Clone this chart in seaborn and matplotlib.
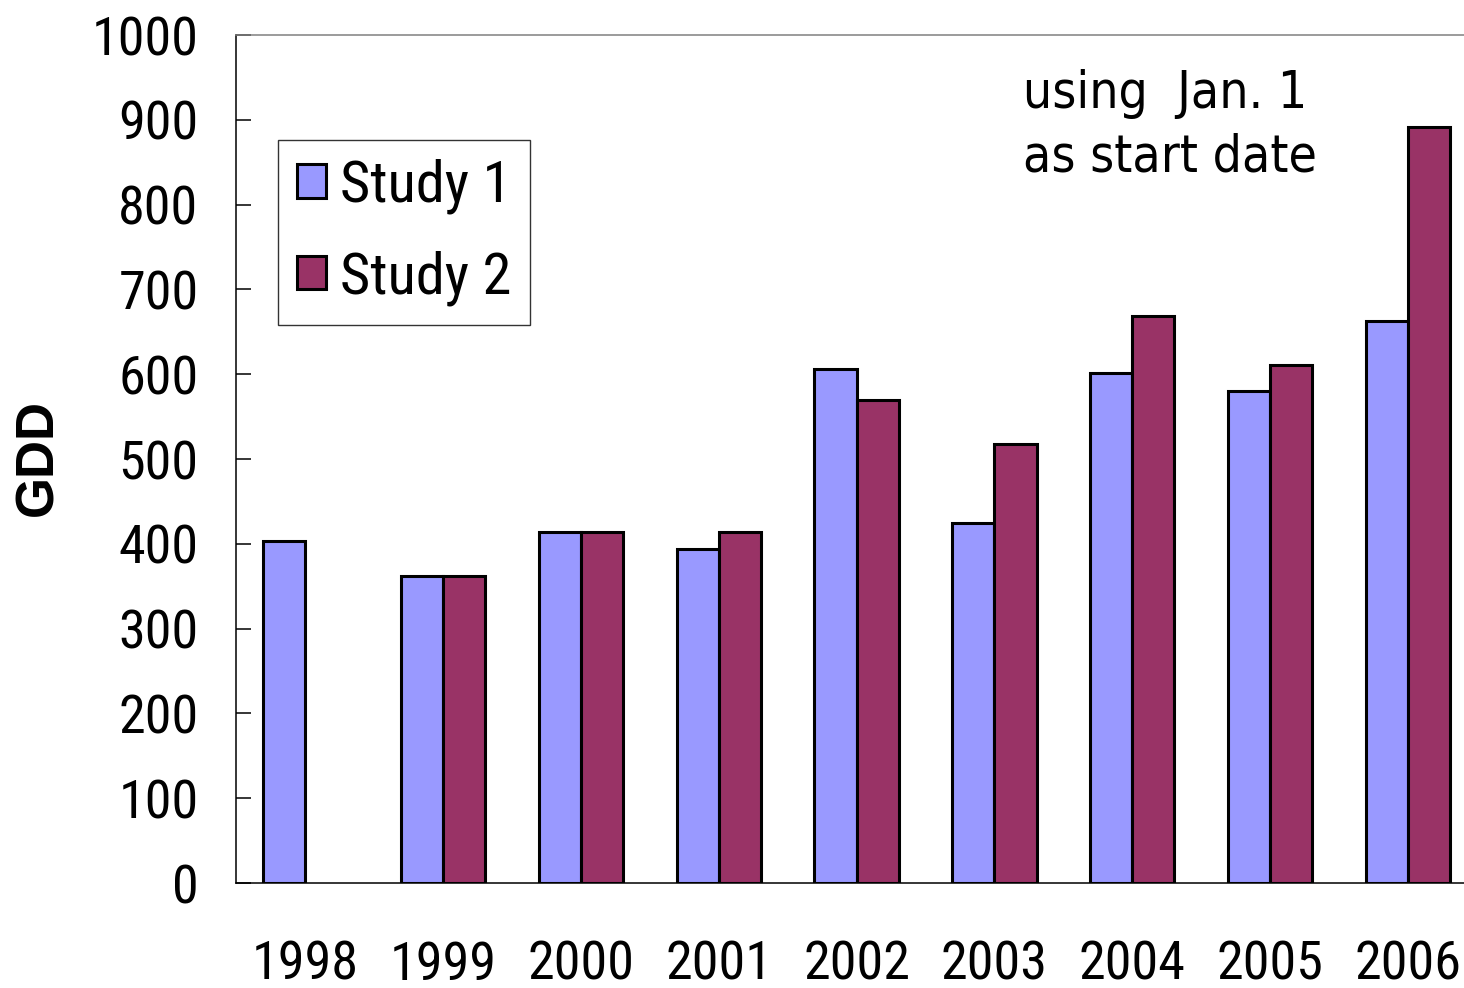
import matplotlib
matplotlib.use("Agg")
import matplotlib.pyplot as plt
import seaborn as sns
import pandas as pd
import numpy as np

# Growing degree days per year for the two studies
years = ["1998", "1999", "2000", "2001", "2002", "2003", "2004", "2005", "2006"]
study1 = [403, 362, 414, 394, 606, 425, 601, 580, 663]
study2 = [np.nan, 362, 414, 414, 570, 518, 669, 611, 891]
series_names = ["Study 1", "Study 2"]
series_colors = ["#9999FF", "#993366"]
y_ticks = list(range(0, 1001, 100))

df = pd.DataFrame({
    "year": years * 2,
    "GDD": study1 + study2,
    "study": [series_names[0]] * len(years) + [series_names[1]] * len(years),
})

sns.set_style("white")
narrow = ["Roboto Condensed", "Archivo Narrow", "PT Sans Narrow",
          "Liberation Sans", "DejaVu Sans"]
plt.rcParams["font.family"] = narrow
for key in ("text.color", "axes.labelcolor", "xtick.color", "ytick.color"):
    plt.rcParams[key] = "black"

fig = plt.figure(figsize=(14.64, 9.88), dpi=100)
ax = fig.add_axes([236 / 1464, 105 / 988, 1228 / 1464, 848 / 988])

sns.barplot(data=df, x="year", y="GDD", hue="study", order=years,
            hue_order=series_names, palette=series_colors, width=0.61,
            edgecolor="black", linewidth=2.2, saturation=1, ax=ax)

ax.set_ylim(0, 1000)
ax.set_xlim(-0.5, 8.405)
ax.set_yticks(y_ticks)
ax.set_yticklabels([str(v) for v in y_ticks], fontsize=39)
ax.tick_params(axis="y", direction="in", length=11, width=1.1, color="black",
               pad=27, left=True)
ax.tick_params(axis="x", length=0, pad=41, labelsize=39)
ax.set_xlabel("")

# Bold axis title, centred to the left of the tick labels
ax.set_ylabel("GDD", fontsize=38, fontweight="bold",
              family=["Liberation Sans", "DejaVu Sans"])
ax.yaxis.label.set_horizontalalignment("center")
ax.yaxis.label.set_verticalalignment("center")
ax.yaxis.set_label_coords(-0.161, 0.502)

for side in ("left", "bottom"):
    ax.spines[side].set_color("black")
    ax.spines[side].set_linewidth(1.1)
ax.spines["top"].set_color("#808080")
ax.spines["top"].set_linewidth(1.1)
ax.spines["right"].set_visible(False)

leg = ax.legend(loc="upper left", bbox_to_anchor=(0.0342, 0.876),
                borderaxespad=0, frameon=True, fancybox=False,
                prop={"family": narrow, "size": 42},
                handlelength=0.5, handleheight=0.5, handletextpad=0.25,
                labelspacing=0.62, borderpad=0.32)
leg.get_frame().set_edgecolor("black")
leg.get_frame().set_linewidth(1.0)
for patch in leg.get_patches():
    patch.set_linewidth(2.2)
    patch.set_edgecolor("black")

ax.text(0.641, 0.960, "using  Jan. 1\nas start date", transform=ax.transAxes,
        ha="left", va="top", fontsize=37, family="DejaVu Sans",
        fontstretch="condensed", linespacing=1.34)

fig.savefig("out.png", dpi=100)
